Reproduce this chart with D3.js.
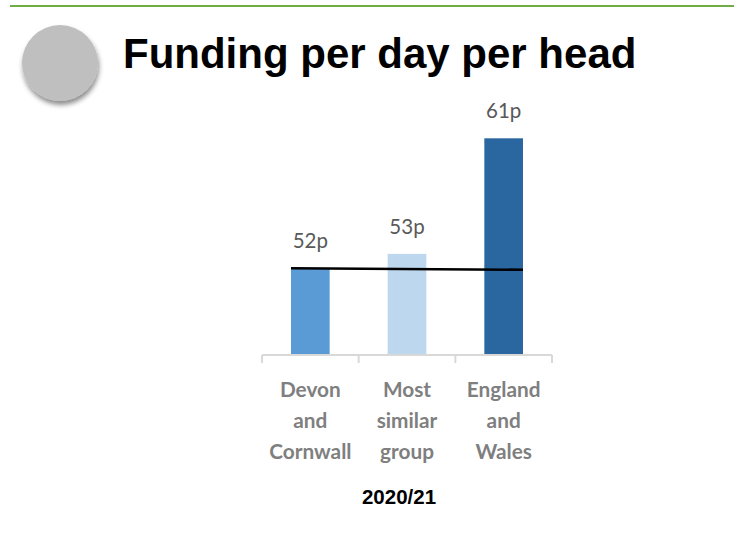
<!DOCTYPE html>
<html>
<head>
<meta charset="utf-8">
<script src="https://cdn.jsdelivr.net/npm/d3@7"></script>
<style>
  html, body { margin: 0; padding: 0; background: #fff; }
  svg { display: block; }
</style>
</head>
<body>
<svg id="chart" width="734" height="535"></svg>
<script>
// Funding per day per head, 2020/21 (pence)
const categories = [
  ["Devon", "and", "Cornwall"],
  ["Most", "similar", "group"],
  ["England", "and", "Wales"]
];
const categoryKeys = ["Devon and Cornwall", "Most similar group", "England and Wales"];
const values = [52, 53, 61];
const barColors = ["#5b9bd5", "#bdd7ee", "#2a66a0"];
// Marker line drawn across the bars at the Devon and Cornwall level
const markerLine = [
  { key: "Devon and Cornwall", value: 52, side: "left" },
  { key: "England and Wales", value: 51.9, side: "right" }
];
const yearLabel = "2020/21";
const title = "Funding per day per head";
const axisFloor = 46;

const svg = d3.select("#chart");

// Header rule
svg.append("line")
  .attr("x1", 10).attr("x2", 734)
  .attr("y1", 6).attr("y2", 6)
  .attr("stroke", "#70ad47").attr("stroke-width", 2);

// Grey disc with soft shadow
const defs = svg.append("defs");
const f = defs.append("filter").attr("id", "discShadow")
  .attr("x", "-30%").attr("y", "-30%").attr("width", "160%").attr("height", "160%");
f.append("feDropShadow")
  .attr("dx", 1).attr("dy", 4).attr("stdDeviation", 2.5)
  .attr("flood-color", "#000").attr("flood-opacity", 0.45);
svg.append("circle")
  .attr("cx", 60).attr("cy", 63).attr("r", 38)
  .attr("fill", "#bfbfbf")
  .attr("filter", "url(#discShadow)");

// Title
svg.append("text")
  .attr("x", 123).attr("y", 68)
  .attr("font-family", "'Liberation Sans', Arial, sans-serif")
  .attr("font-weight", "bold")
  .attr("font-size", 42)
  .attr("fill", "#000")
  .text(title);

// Scales
const x = d3.scaleBand()
  .domain(categoryKeys)
  .range([262, 552])
  .paddingInner(0.6)
  .paddingOuter(0.3);

const y = d3.scaleLinear()
  .domain([axisFloor, d3.max(values)])
  .range([355, 138.3]);

const data = categoryKeys.map((k, i) => ({ key: k, lines: categories[i], value: values[i], color: barColors[i] }));

// Bars
svg.append("g").selectAll("rect")
  .data(data)
  .join("rect")
  .attr("x", d => x(d.key))
  .attr("width", x.bandwidth())
  .attr("y", d => y(d.value))
  .attr("height", d => y(axisFloor) - y(d.value))
  .attr("fill", d => d.color);

// Category axis
const axisY = y(axisFloor);
const [r0, r1] = x.range();
const gAxis = svg.append("g");
gAxis.append("line")
  .attr("x1", r0).attr("x2", r1)
  .attr("y1", axisY).attr("y2", axisY)
  .attr("stroke", "#d9d9d9").attr("stroke-width", 2);
gAxis.selectAll("line.tick")
  .data(d3.range(categoryKeys.length + 1))
  .join("line")
  .attr("class", "tick")
  .attr("x1", i => r0 + i * x.step()).attr("x2", i => r0 + i * x.step())
  .attr("y1", axisY).attr("y2", axisY + 8)
  .attr("stroke", "#d9d9d9").attr("stroke-width", 2);

// Category labels
const lab = svg.append("g").selectAll("text")
  .data(data)
  .join("text")
  .attr("x", d => x(d.key) + x.bandwidth() / 2)
  .attr("y", 397)
  .attr("text-anchor", "middle")
  .attr("font-family", "Lato, sans-serif")
  .attr("font-weight", "bold")
  .attr("font-size", 20.8)
  .attr("fill", "#7f7f7f");
lab.selectAll("tspan")
  .data(d => d.lines.map((t, i) => ({ t, i, cx: x(d.key) + x.bandwidth() / 2 })))
  .join("tspan")
  .attr("x", d => d.cx)
  .attr("dy", d => d.i === 0 ? 0 : 31)
  .text(d => d.t);

// Value labels
svg.append("g").selectAll("text")
  .data(data)
  .join("text")
  .attr("x", d => x(d.key) + x.bandwidth() / 2)
  .attr("y", d => y(d.value) - 20)
  .attr("text-anchor", "middle")
  .attr("font-family", "Lato, sans-serif")
  .attr("font-size", 20.5)
  .attr("fill", "#595959")
  .text(d => d.value + "p");

// Marker line
const lineGen = d3.line()
  .x(d => d.side === "left" ? x(d.key) : x(d.key) + x.bandwidth())
  .y(d => y(d.value));
svg.append("path")
  .attr("d", lineGen(markerLine))
  .attr("fill", "none")
  .attr("stroke", "#000")
  .attr("stroke-width", 2.6);

// Year label
svg.append("text")
  .attr("x", 399).attr("y", 504)
  .attr("text-anchor", "middle")
  .attr("font-family", "'Liberation Sans', Arial, sans-serif")
  .attr("font-weight", "bold")
  .attr("font-size", 20.5)
  .attr("fill", "#000")
  .text(yearLabel);
</script>
</body>
</html>
